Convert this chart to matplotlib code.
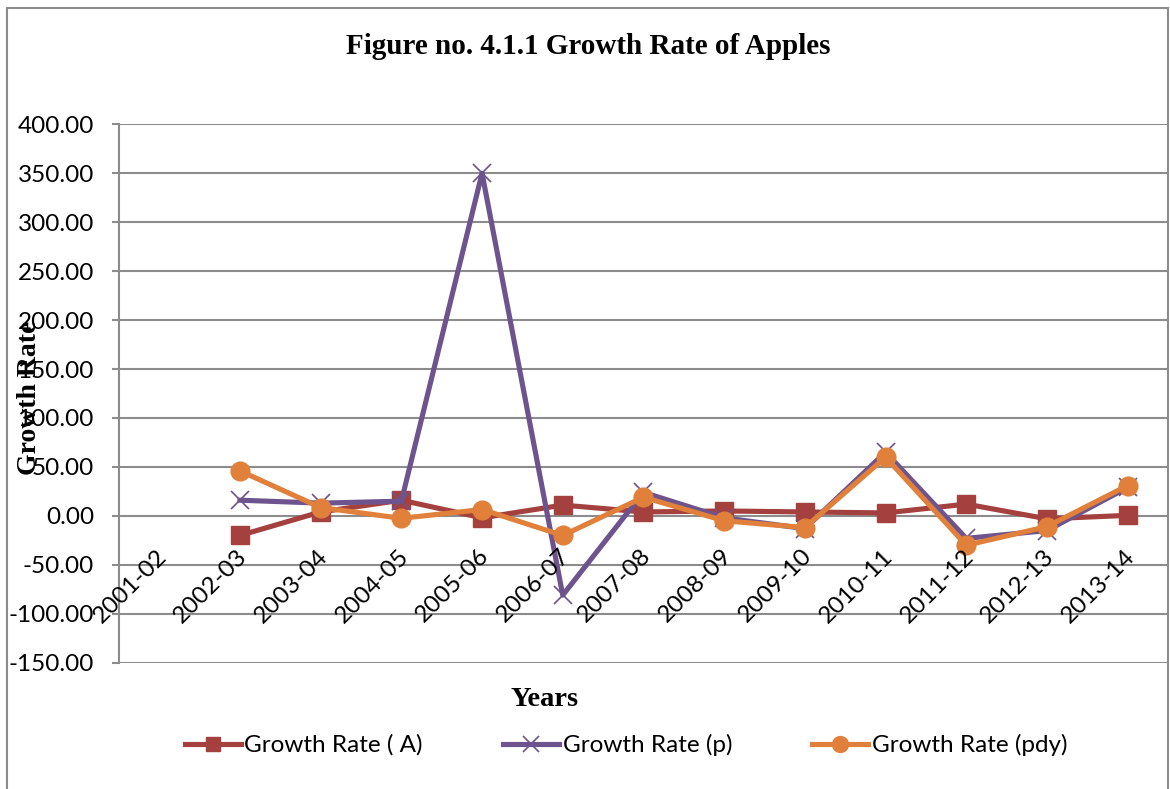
import matplotlib
matplotlib.use("Agg")
import matplotlib.pyplot as plt
from matplotlib.patches import Rectangle
import numpy as np

years = ["2001-02", "2002-03", "2003-04", "2004-05", "2005-06", "2006-07", "2007-08",
         "2008-09", "2009-10", "2010-11", "2011-12", "2012-13", "2013-14"]
growth_a = [np.nan, -20, 4, 16, -2, 11, 4, 5, 4, 3, 12, -3, 0.5]
growth_p = [np.nan, 16, 13, 15, 350, -81, 24, -2, -13, 65, -23, -15, 29]
growth_pdy = [np.nan, 46, 8.5, -2.5, 6.5, -20, 19, -5, -12, 60, -30, -11, 31]
yticks = [-150, -100, -50, 0, 50, 100, 150, 200, 250, 300, 350, 400]

W, H = 1170, 789
fig = plt.figure(figsize=(W / 100, H / 100), dpi=100)

# outer chart border
fig.patches.append(Rectangle((7 / W, -0.01), (1168 - 7) / W, (H - 8) / H + 0.01,
                             transform=fig.transFigure, fill=False,
                             edgecolor="#8c8c8c", linewidth=1.5))

left, right, top, bottom = 118.9, 1168, 124.3, 662.7
ax = fig.add_axes([left / W, (H - bottom) / H, (right - left) / W, (bottom - top) / H])

red = "#A4403D"
purple = "#6E548E"
orange = "#E0803A"
grid_c = "#8c8c8c"

x = np.arange(len(years))
ax.plot(x, growth_a, color=red, lw=3.7, marker="s", ms=12.5, label="Growth Rate ( A)", zorder=3)
ax.plot(x, growth_p, color=purple, lw=3.7, marker="x", ms=13, mew=1.2, label="Growth Rate (p)", zorder=4)
ax.plot(x, growth_pdy, color=orange, lw=3.7, marker="o", ms=13.5, label="Growth Rate (pdy)", zorder=5)

ax.set_xlim(-0.5, len(years) - 0.5)
ax.set_ylim(-150, 400)
ax.set_yticks(yticks)
ax.set_yticklabels([f"{v:.2f}" for v in yticks], fontfamily="Lato", fontsize=17.5)
ax.set_xticks([])
for s in ["top", "right", "bottom"]:
    ax.spines[s].set_visible(False)
ax.spines["left"].set_color(grid_c)
ax.spines["left"].set_linewidth(1.5)
ax.tick_params(axis="y", length=5, width=1.5, color=grid_c, pad=13)
ax.yaxis.grid(True, color=grid_c, linewidth=1.5)
ax.set_axisbelow(True)

for i, lab in enumerate(years):
    ax.text(i + 0.14, -30, lab, rotation=45, ha="right", va="top",
            fontfamily="Lato", fontsize=17.5, zorder=6)

fig.text(588 / W, 1 - 47 / H, "Figure no. 4.1.1 Growth Rate of Apples",
         fontfamily="Liberation Serif", fontweight="bold", fontsize=21,
         ha="center", va="center")
fig.text(545 / W, 1 - 700 / H, "Years", fontfamily="Liberation Serif",
         fontweight="bold", fontsize=20.5, ha="center", va="center")
fig.text(30 / W, 1 - 398 / H, "Growth Rate", fontfamily="Liberation Serif",
         fontweight="bold", fontsize=20, ha="center", va="center", rotation=90)

leg = fig.legend(loc="center", bbox_to_anchor=(626 / W, 1 - 745 / H), ncol=3,
                 frameon=False, prop={"family": "Lato", "size": 17.5},
                 handlelength=2.3, handletextpad=0.15, columnspacing=3.3,
                 markerscale=0.85)

fig.savefig("out.png", dpi=100)
